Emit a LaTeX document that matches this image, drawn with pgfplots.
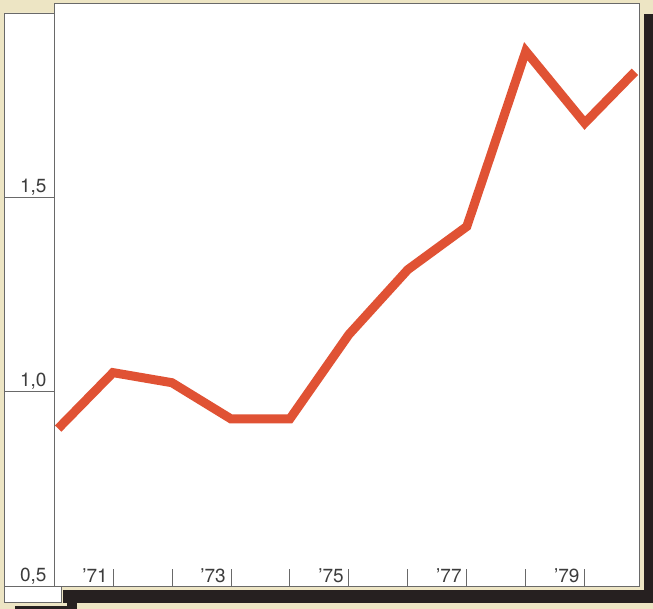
\documentclass[border=0pt]{standalone}
\usepackage{pgfplots}
\pgfplotsset{compat=1.18}
\usepackage{fontspec}
\setmainfont{TeX Gyre Heros}
\definecolor{beige}{RGB}{237,229,196}
\definecolor{shadow}{RGB}{38,32,32}
\definecolor{linered}{RGB}{224,82,52}
\definecolor{frame}{RGB}{105,105,105}
\definecolor{labelc}{RGB}{60,60,60}
\begin{document}
\begin{tikzpicture}[x=1pt,y=1pt]
\path[use as bounding box, fill=beige] (0,0) rectangle (653,609);
\fill[shadow] (644,6) rectangle (653,595);
\fill[shadow] (63,6) rectangle (653,19);
\fill[shadow] (67,0) rectangle (77,19);
\fill[shadow] (15,0) rectangle (77,3);
\draw[frame, fill=white, line width=0.8pt] (4.5,596) -- (54,596) -- (54,23) -- (61,23) -- (61,7) -- (4.5,7) -- cycle;
\begin{axis}[
  at={(54pt,23pt)}, anchor=south west,
  scale only axis, width=585pt, height=583pt,
  xmin=1970, xmax=1979.92, ymin=0.5, ymax=2.0,
  axis background/.style={fill=white},
  axis line style={frame, line width=0.8pt},
  tick pos=left,
  xtick={1971,...,1979},
  xticklabels={'71,,'73,,'75,,'77,,'79},
  ytick={0.5,1,1.5},
  yticklabels={0{,}5,1{,}0,1{,}5},
  xtick align=inside, ytick align=outside,
  xtick style={frame, line width=0.8pt, /pgfplots/major tick length=17pt},
  ytick style={frame, line width=0.8pt, /pgfplots/major tick length=49.5pt},
  ticklabel style={font=\fontsize{19}{21}\selectfont, text=labelc, inner sep=0pt},
  xticklabel style={anchor=south east, xshift=-5pt, yshift=3pt},
  yticklabel style={anchor=south east, xshift=-3pt, yshift=2pt},
]
\addplot[linered, line width=9pt, line join=miter, no marks] coordinates {
(1970.07,0.905) (1971,1.049) (1972,1.023) (1973,0.930) (1974,0.930)
(1975,1.147) (1976,1.314) (1977,1.425) (1978,1.876) (1979,1.691) (1979.85,1.823)
};
\end{axis}
\end{tikzpicture}
\end{document}
